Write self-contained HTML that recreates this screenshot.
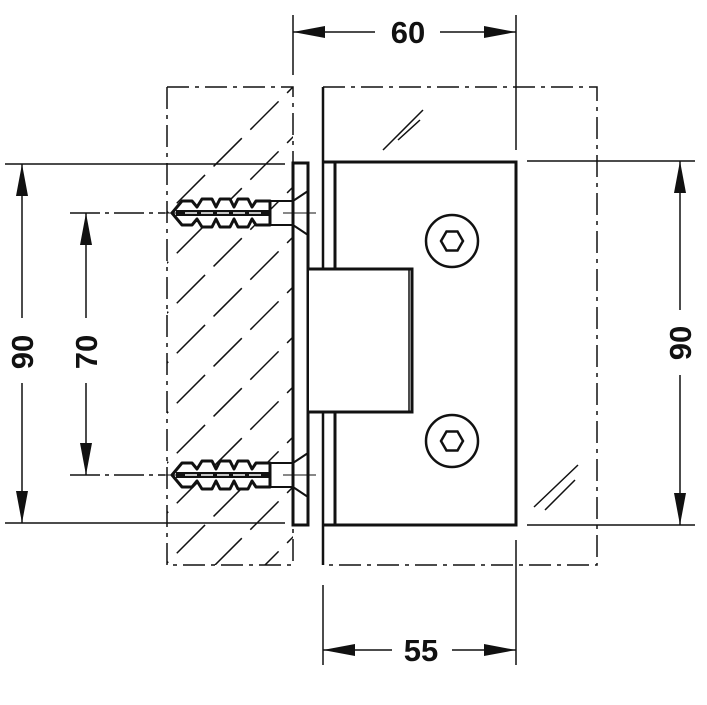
<!DOCTYPE html>
<html><head><style>html,body{margin:0;padding:0;background:#fff}svg{display:block}</style></head>
<body>
<svg width="707" height="705" viewBox="0 0 707 705" xmlns="http://www.w3.org/2000/svg">
<defs>
<marker id="a" viewBox="0 0 32 12" refX="32" refY="6" markerWidth="32" markerHeight="12" markerUnits="userSpaceOnUse" orient="auto-start-reverse"><path d="M32,6 L0,0 L0,12 Z" fill="#111"/></marker>
<clipPath id="wall"><rect x="167" y="87" width="126" height="478"/></clipPath>
<g id="anchor">
<path d="M172,0 L182,-12 L192,-12 L197,-6 L202,-14 L212,-14 L216,-6 L220,-14 L230,-14 L234,-6 L238,-14 L248,-14 L252,-6 L256,-12 L270,-12 L270,12 L256,12 L252,6 L248,14 L238,14 L234,6 L230,14 L220,14 L216,6 L212,14 L202,14 L197,6 L192,12 L182,12 Z" fill="#fff" stroke="#111" stroke-width="3" stroke-linejoin="round"/>
<rect x="176" y="-3" width="94" height="6" fill="#111"/>
<line x1="185" y1="0" x2="265" y2="0" stroke="#fff" stroke-width="1.5" stroke-dasharray="12,4"/>
<path d="M270,-12 L293,-12 L308,-22 M270,12 L293,12 L308,22 M293,-12 L293,12" fill="none" stroke="#111" stroke-width="2"/>
<line x1="160" y1="0" x2="180" y2="0" stroke="#111" stroke-width="1"/>
<line x1="283" y1="0" x2="316" y2="0" stroke="#111" stroke-width="1"/>
</g>
</defs>
<g stroke="#111" fill="none">
<g clip-path="url(#wall)" stroke-width="1.5">
<path d="M140,240 L300,80 M140,290 L300,130 M140,340 L300,180 M140,390 L300,230 M140,440 L300,280 M140,490 L300,330 M140,540 L300,380 M140,590 L300,430 M140,640 L300,480 M140,690 L300,530 M160,720 L300,580" stroke-dasharray="40,12"/>
</g>
<path d="M167,87 L293,87 L293,163 M167,87 L167,565 L293,565 L293,525" stroke-width="1.5" stroke-dasharray="22,6,4,6"/>
<path d="M323,87 L597,87 L597,565 L323,565" stroke-width="1.5" stroke-dasharray="22,6,4,6"/>
<line x1="323" y1="87" x2="323" y2="565" stroke-width="2.5"/>
<path d="M383,150 L423,110 M398,140 L420,120 M534,507 L578,465 M545,510 L575,480" stroke-width="1.5"/>
<rect x="293" y="163" width="15" height="362" fill="#fff" stroke-width="3"/>
<path d="M323,162 L516,162 L516,525 L323,525" stroke-width="3"/>
<path d="M335,162 L335,268 M335,412 L335,525" stroke-width="3"/>
<path d="M309,269 L412,269 L412,412 L309,412" fill="#fff" stroke-width="3"/>
<line x1="409" y1="269" x2="409" y2="412" stroke-width="1.5"/>
<line x1="309" y1="412" x2="412" y2="412" stroke-width="3"/>
<circle cx="452" cy="241" r="26" stroke-width="2.5"/>
<polygon points="463,241 457.5,250.5 446.5,250.5 441,241 446.5,231.5 457.5,231.5" stroke-width="2.5"/>
<circle cx="452" cy="441" r="26" stroke-width="2.5"/>
<polygon points="463,441 457.5,450.5 446.5,450.5 441,441 446.5,431.5 457.5,431.5" stroke-width="2.5"/>
<g stroke-width="1.5">
<line x1="293" y1="15" x2="293" y2="75"/>
<line x1="516" y1="15" x2="516" y2="150"/>
<line x1="293" y1="32" x2="375" y2="32" marker-start="url(#a)"/>
<line x1="440" y1="32" x2="516" y2="32" marker-end="url(#a)"/>
<line x1="5" y1="164" x2="285" y2="164"/>
<line x1="5" y1="523" x2="285" y2="523"/>
<line x1="22" y1="164" x2="22" y2="318" marker-start="url(#a)"/>
<line x1="22" y1="383" x2="22" y2="523" marker-end="url(#a)"/>
<line x1="70" y1="213" x2="165" y2="213" stroke-dasharray="30,5,4,5"/>
<line x1="70" y1="475" x2="165" y2="475" stroke-dasharray="30,5,4,5"/>
<line x1="86" y1="213" x2="86" y2="318" marker-start="url(#a)"/>
<line x1="86" y1="383" x2="86" y2="475" marker-end="url(#a)"/>
<line x1="527" y1="161" x2="695" y2="161"/>
<line x1="527" y1="525" x2="695" y2="525"/>
<line x1="680" y1="161" x2="680" y2="310" marker-start="url(#a)"/>
<line x1="680" y1="375" x2="680" y2="525" marker-end="url(#a)"/>
<line x1="323" y1="585" x2="323" y2="665"/>
<line x1="516" y1="540" x2="516" y2="665"/>
<line x1="323" y1="650" x2="392" y2="650" marker-start="url(#a)"/>
<line x1="452" y1="650" x2="516" y2="650" marker-end="url(#a)"/>
</g>
</g>
<use href="#anchor" transform="translate(0,213)"/>
<use href="#anchor" transform="translate(0,475)"/>
<g font-family="Liberation Sans, sans-serif" font-weight="bold" font-size="31" fill="#111" text-anchor="middle">
<text x="408" y="43">60</text>
<text x="421" y="661">55</text>
<text transform="translate(33,352) rotate(-90)">90</text>
<text transform="translate(97,352) rotate(-90)">70</text>
<text transform="translate(691,343) rotate(-90)">90</text>
</g>
</svg>
</body></html>
